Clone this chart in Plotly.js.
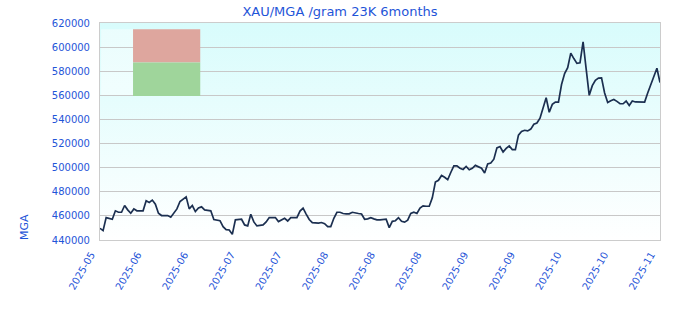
<!DOCTYPE html>
<html>
<head>
<meta charset="utf-8">
<script src="https://cdn.plot.ly/plotly-3.0.1.min.js"></script>
<style>html,body{margin:0;padding:0;background:#fff}#chart{width:680px;height:320px}</style>
</head>
<body>
<div id="chart"></div>
<script>
const chartTitle = 'XAU/MGA /gram 23K 6months';
const yTitle = 'MGA';
const tickLabels = ['2025-05','2025-06','2025-06','2025-07','2025-07','2025-08','2025-08','2025-08','2025-09','2025-09','2025-10','2025-10','2025-11'];

const dates = [
 '2025-05-17','2025-05-18','2025-05-19','2025-05-20','2025-05-21','2025-05-22','2025-05-23','2025-05-24','2025-05-25','2025-05-26','2025-05-27','2025-05-28','2025-05-29','2025-05-30','2025-05-31',
 '2025-06-01','2025-06-02','2025-06-03','2025-06-04','2025-06-05','2025-06-06','2025-06-07','2025-06-08','2025-06-09','2025-06-10','2025-06-11','2025-06-12','2025-06-13','2025-06-14','2025-06-15',
 '2025-06-16','2025-06-17','2025-06-18','2025-06-19','2025-06-20','2025-06-21','2025-06-22','2025-06-23','2025-06-24','2025-06-25','2025-06-26','2025-06-27','2025-06-28','2025-06-29','2025-06-30',
 '2025-07-01','2025-07-02','2025-07-03','2025-07-04','2025-07-05','2025-07-06','2025-07-07','2025-07-08','2025-07-09','2025-07-10','2025-07-11','2025-07-12','2025-07-13','2025-07-14','2025-07-15',
 '2025-07-16','2025-07-17','2025-07-18','2025-07-19','2025-07-20','2025-07-21','2025-07-22','2025-07-23','2025-07-24','2025-07-25','2025-07-26','2025-07-27','2025-07-28','2025-07-29','2025-07-30','2025-07-31',
 '2025-08-01','2025-08-02','2025-08-03','2025-08-04','2025-08-05','2025-08-06','2025-08-07','2025-08-08','2025-08-09','2025-08-10','2025-08-11','2025-08-12','2025-08-13','2025-08-14','2025-08-15',
 '2025-08-16','2025-08-17','2025-08-18','2025-08-19','2025-08-20','2025-08-21','2025-08-22','2025-08-23','2025-08-24','2025-08-25','2025-08-26','2025-08-27','2025-08-28','2025-08-29','2025-08-30','2025-08-31',
 '2025-09-01','2025-09-02','2025-09-03','2025-09-04','2025-09-05','2025-09-06','2025-09-07','2025-09-08','2025-09-09','2025-09-10','2025-09-11','2025-09-12','2025-09-13','2025-09-14','2025-09-15',
 '2025-09-16','2025-09-17','2025-09-18','2025-09-19','2025-09-20','2025-09-21','2025-09-22','2025-09-23','2025-09-24','2025-09-25','2025-09-26','2025-09-27','2025-09-28','2025-09-29','2025-09-30',
 '2025-10-01','2025-10-02','2025-10-03','2025-10-04','2025-10-05','2025-10-06','2025-10-07','2025-10-08','2025-10-09','2025-10-10','2025-10-11','2025-10-12','2025-10-13','2025-10-14','2025-10-15',
 '2025-10-16','2025-10-17','2025-10-18','2025-10-19','2025-10-20','2025-10-21','2025-10-22','2025-10-23','2025-10-24','2025-10-25','2025-10-26','2025-10-27','2025-10-28','2025-10-29','2025-10-30','2025-10-31',
 '2025-11-01','2025-11-02','2025-11-03','2025-11-04','2025-11-05','2025-11-06','2025-11-07','2025-11-08','2025-11-09','2025-11-10','2025-11-11','2025-11-12','2025-11-13','2025-11-14','2025-11-15'
];

const prices = [
 449700,447800,458600,458000,457200,464200,463000,463000,468600,465000,462200,465800,464200,464200,464200,
 472500,471100,473100,469700,462200,460300,460300,460300,458900,462000,465800,471900,474200,475800,465800,
 468600,463600,466500,467500,465000,464600,464200,457000,456500,456000,451000,448600,448300,444700,456700,
 457000,457200,452500,451700,461400,455000,451700,452000,452500,455000,458600,458600,458600,455300,457000,
 458000,455800,458600,458600,458600,464000,466500,461500,457000,454400,454200,454000,454500,453500,451100,451100,
 458000,463000,463000,462000,461700,461700,463000,462800,462000,461600,457200,457500,458500,457500,456700,
 456700,456700,457200,450300,455500,456000,458500,455500,454800,456500,462000,463000,462000,466500,468300,468000,
 468000,475000,488000,489500,493500,492000,490000,496000,501500,501500,499500,498500,501000,498300,499500,
 501900,501000,499500,495600,503000,503800,507000,516400,517500,513000,516000,518000,515000,515000,527000,
 530000,531000,530500,532000,536000,537000,541000,550000,558000,546000,552500,554400,554400,569000,578000,
 583000,595000,590500,586500,587000,604400,582000,560000,568000,572500,574300,574500,562000,554000,555500,556500,
 555000,553000,553000,555300,551500,555300,554500,554400,554400,554400,562000,568500,576000,582500,570600
];

const blue = '#1f55d8';
const t0 = new Date(dates[0] + 'T00:00:00Z').getTime();
const t1 = new Date(dates[dates.length - 1] + 'T00:00:00Z').getTime();
const tickVals = tickLabels.map((_, i) => new Date(t0 + i * (t1 - t0) / (tickLabels.length - 1)).toISOString());

const gradSvg = '<svg xmlns="http://www.w3.org/2000/svg" width="10" height="100" preserveAspectRatio="none"><defs><linearGradient id="g" x1="0" y1="0" x2="0" y2="1"><stop offset="0" stop-color="#d8fcfc"/><stop offset="1" stop-color="#ffffff"/></linearGradient></defs><rect width="10" height="100" fill="url(#g)"/></svg>';

const trace = {
  x: dates, y: prices, type: 'scatter', mode: 'lines',
  line: {color: '#1b2f50', width: 1.7}, hoverinfo: 'skip'
};

const layout = {
  width: 680, height: 320,
  margin: {l: 100, r: 20, t: 23, b: 80},
  paper_bgcolor: '#ffffff', plot_bgcolor: 'rgba(0,0,0,0)',
  font: {family: 'DejaVu Sans, Verdana, sans-serif', size: 10, color: blue},
  showlegend: false,
  title: {text: chartTitle, x: 0.5, xref: 'container', xanchor: 'center', y: 0.965, yref: 'container', yanchor: 'middle', font: {size: 13, color: blue}},
  xaxis: {
    type: 'date', range: [dates[0], dates[dates.length - 1]],
    tickmode: 'array', tickvals: tickVals, ticktext: tickLabels, tickangle: -60,
    showgrid: false, showline: true, linecolor: '#cccccc', linewidth: 1, mirror: true,
    ticks: '', zeroline: false, tickfont: {size: 10, color: blue},
    ticklabelstandoff: 4, ticklabelshift: -9
  },
  yaxis: {
    range: [440000, 620000], dtick: 20000, tick0: 440000, tickformat: 'd',
    showgrid: true, gridcolor: '#c8c8c8', gridwidth: 1,
    showline: true, linecolor: '#cccccc', linewidth: 1, mirror: true,
    ticks: '', zeroline: false, tickfont: {size: 10, color: blue}, ticklabelstandoff: 7
  },
  images: [{
    source: 'data:image/svg+xml;charset=utf-8,' + encodeURIComponent(gradSvg),
    xref: 'paper', yref: 'paper', x: 0, y: 1, sizex: 1, sizey: 1,
    xanchor: 'left', yanchor: 'top', sizing: 'stretch', layer: 'below'
  }],
  shapes: [
    {type: 'rect', xref: 'paper', yref: 'paper', x0: 0.002, x1: 0.059, y0: 0.664, y1: 0.971, fillcolor: 'rgba(255,255,255,0.45)', line: {width: 0}, layer: 'below'},
    {type: 'rect', xref: 'paper', yref: 'paper', x0: 0.059, x1: 0.179, y0: 0.818, y1: 0.971, fillcolor: '#dea69e', line: {width: 0}, layer: 'above'},
    {type: 'rect', xref: 'paper', yref: 'paper', x0: 0.059, x1: 0.179, y0: 0.664, y1: 0.818, fillcolor: '#9fd59b', line: {width: 0}, layer: 'above'}
  ],
  annotations: [{
    text: yTitle, xref: 'paper', yref: 'paper', x: -0.134, y: 0.06, textangle: -90,
    showarrow: false, xanchor: 'center', yanchor: 'middle', font: {size: 11, color: blue}
  }]
};

Plotly.newPlot('chart', [trace], layout, {staticPlot: true, displayModeBar: false});
</script>
</body>
</html>
